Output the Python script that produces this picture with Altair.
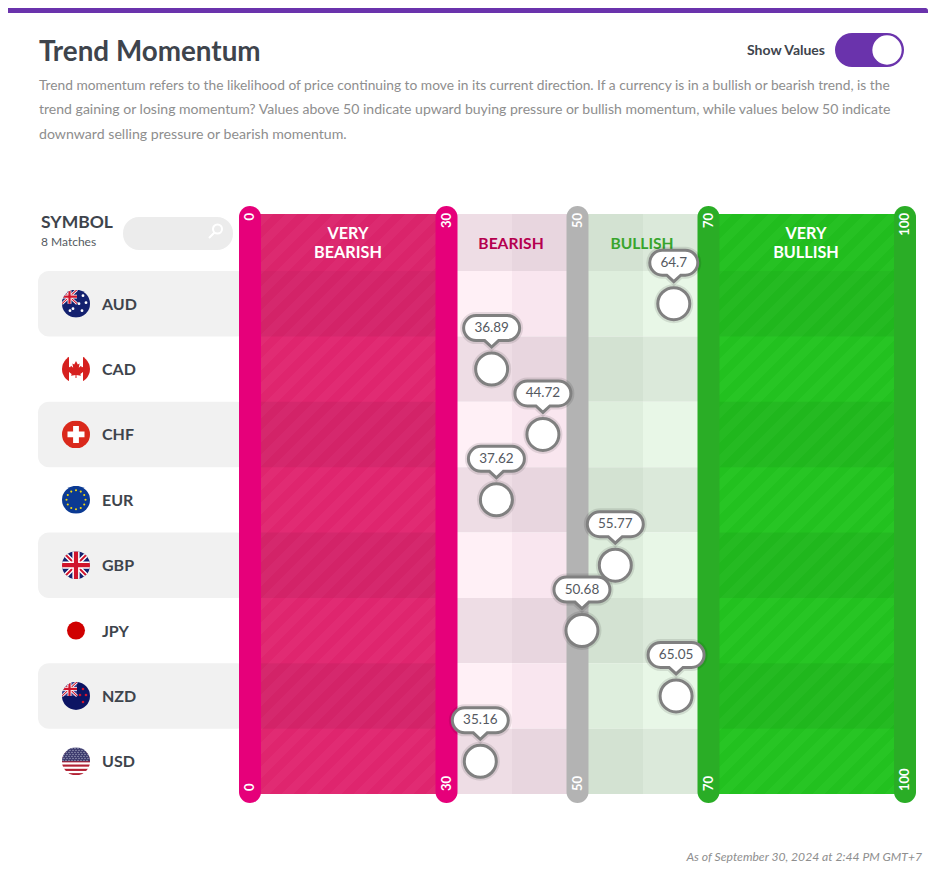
import base64
import altair as alt
import pandas as pd

# ---------- data ----------
symbols = ["AUD", "CAD", "CHF", "EUR", "GBP", "JPY", "NZD", "USD"]
momentum = [64.7, 36.89, 44.72, 37.62, 55.77, 50.68, 65.05, 35.16]
boundaries = [0, 30, 50, 70, 100]
boundary_colors = ["#e6007a", "#e6007a", "#b3b3b3", "#2aad26", "#2aad26"]

FONT = "Lato"
INK = "#3e444c"
GREY = "#8e8e8e"
PURPLE = "#6a33ac"
PX = 8  # page margin


# ---------- flag icons ----------
def svg(body):
    s = ('<svg xmlns="http://www.w3.org/2000/svg" width="56" height="56" viewBox="-14 -14 28 28">'
         '<defs><clipPath id="c"><circle r="14"/></clipPath></defs><g clip-path="url(#c)">' + body + "</g></svg>")
    return "data:image/svg+xml;base64," + base64.b64encode(s.encode()).decode()


def jack(x0, y0, w, h, navy="#14216f"):
    x1, y1 = x0 + w, y0 + h
    cx, cy = x0 + w / 2, y0 + h / 2
    t = w / 7
    return (f'<rect x="{x0}" y="{y0}" width="{w}" height="{h}" fill="{navy}"/>'
            f'<path d="M{x0},{y0}L{x1},{y1}M{x1},{y0}L{x0},{y1}" stroke="#fff" stroke-width="{t*1.2}"/>'
            f'<path d="M{x0},{y0}L{x1},{y1}M{x1},{y0}L{x0},{y1}" stroke="#d0142c" stroke-width="{t*.5}"/>'
            f'<path d="M{cx},{y0}V{y1}M{x0},{cy}H{x1}" stroke="#fff" stroke-width="{t*1.8}"/>'
            f'<path d="M{cx},{y0}V{y1}M{x0},{cy}H{x1}" stroke="#d0142c" stroke-width="{t*1.05}"/>')


def dots(pts, r, col):
    return "".join(f'<circle cx="{x}" cy="{y}" r="{r}" fill="{col}"/>' for x, y in pts)


us_stripes = "".join(f'<rect x="-14" y="{-14 + i*4.3:.1f}" width="28" height="2.15" fill="#b22234"/>' for i in range(1, 7))
us_stars = "".join(f'<circle cx="{x}" cy="{y}" r=".55" fill="#dfe3ee"/>'
                   for y in range(-13, 0, 2) for x in range(-13 + (y + 13) % 4 // 2, 14, 3))
eur_ring = dots([(-9.5 * s, -9.5 * c) for s, c in
                 [(0, 1), (.5, .866), (.866, .5), (1, 0), (.866, -.5), (.5, -.866),
                  (0, -1), (-.5, -.866), (-.866, -.5), (-1, 0), (-.866, .5), (-.5, .866)]], 1.05, "#f5d90a")
maple = ('<path fill="#d6201f" d="M0,-8 L1.8,-4.6 L3.6,-5.6 L2.8,-1.2 L5,-3.4 L5.8,-1.8 L8.4,-2.2 L7.4,.8 '
         'L8.6,1.6 L4.4,5 L4.9,6.6 L.5,6 L.5,9 L-.5,9 L-.5,6 L-4.9,6.6 L-4.4,5 L-8.6,1.6 L-7.4,.8 L-8.4,-2.2 '
         'L-5.8,-1.8 L-5,-3.4 L-2.8,-1.2 L-3.6,-5.6 L-1.8,-4.6Z"/>')
flags = [
    svg('<rect x="-14" y="-14" width="28" height="28" fill="#14216f"/>' + jack(-14, -14, 15, 14)
        + dots([(-6, 7), (7, -8), (10, -1), (6, 7), (3, 0), (-3, 5)], 1.4, "#fff")),
    svg('<rect x="-14" y="-14" width="28" height="28" fill="#fff"/>'
        '<rect x="-14" y="-14" width="7" height="28" fill="#d6201f"/><rect x="7" y="-14" width="7" height="28" fill="#d6201f"/>' + maple),
    svg('<rect x="-14" y="-14" width="28" height="28" fill="#da291c"/>'
        '<path d="M-2.9,-8.5H2.9V-2.9H8.5V2.9H2.9V8.5H-2.9V2.9H-8.5V-2.9H-2.9Z" fill="#fff"/>'),
    svg('<rect x="-14" y="-14" width="28" height="28" fill="#0b3a93"/>' + eur_ring),
    svg(jack(-14, -14, 28, 28)),
    svg('<rect x="-14" y="-14" width="28" height="28" fill="#fff"/><circle r="9" fill="#d00000"/>'),
    svg('<rect x="-14" y="-14" width="28" height="28" fill="#0c1463"/>' + jack(-14, -14, 15, 14, "#3a3f8f")
        + dots([(7, -7), (10, -1), (4, -1), (7, 6)], 1.3, "#d0142c")),
    svg('<rect x="-14" y="-14" width="28" height="28" fill="#fff"/>' + us_stripes
        + '<rect x="-14" y="-14" width="28" height="14" fill="#3c3b6e"/>' + us_stars),
]


# ---------- callout shapes (size 4 -> path units are pixels) ----------
def bubble(w):
    top, bot, r = -53.5, -28.5, 12.5
    arc = f"A{r},{r} 0 0 1"
    return (f"M{-w+r},{top} L{w-r},{top} {arc} {w},{top+r} {arc} {w-r},{bot} "
            f"L7,{bot} L0,-22 L-7,{bot} L{-w+r},{bot} {arc} {-w},{top+r} {arc} {-w+r},{top} Z")


BUBBLE_WIDE, BUBBLE_NARROW = bubble(28), bubble(24)
SEARCH = "M-1,1 L-6,6 M7,-3 A4.5,4.5 0 1 0 -2,-3 A4.5,4.5 0 1 0 7,-3 Z"


# ---------- scales ----------
xs = alt.Scale(domain=[0, 100], range=[250 - PX, 905 - PX], nice=False, zero=False)
ys = alt.Scale(domain=[0, 8], range=[271 - PX, 794 - PX], nice=False, zero=False)
X = lambda f: alt.X(f, scale=xs, axis=None)
Y = lambda f: alt.Y(f, scale=ys, axis=None)


def text(t, x, y, size, color=INK, weight="normal", align="left", style="normal", **kw):
    return alt.Chart(pd.DataFrame({"t": [t]})).mark_text(
        font=FONT, fontSize=size, color=color, fontWeight=weight, align=align,
        baseline="middle", fontStyle=style, **kw
    ).encode(x=alt.value(x - PX), y=alt.value(y - PX), text="t:N")


def box(x0, x1, y0, y1, color, **kw):
    return alt.Chart(pd.DataFrame({"a": [0]})).mark_rect(color=color, **kw).encode(
        x=alt.value(x0 - PX), x2=alt.value(x1 - PX), y=alt.value(y0 - PX), y2=alt.value(y1 - PX))


# ---------- tables ----------
rows = pd.DataFrame({"sym": symbols, "val": momentum, "flag": flags})
rows["top"] = range(8)
rows["bot"] = rows["top"] + 1
rows["mid"] = rows["top"] + 0.5
rows["lab"] = rows["val"].map(lambda v: f"{v:g}")
rows["shape"] = rows["lab"].map(lambda s: BUBBLE_WIDE if len(s) > 4 else BUBBLE_NARROW)

HEAD = -57 / (523 / 8)
cols = [(30, 40, "#fff0f6", "#eeddE5"), (40, 50, "#f9e6ef", "#e8d6df"),
        (50, 60, "#deeedd", "#d3e2d2"), (60, 70, "#e8f7e7", "#dbe9da")]
cells = []
for lo, hi, light, dark in cols:
    cells.append(dict(lo=lo, hi=hi, a=HEAD, b=0, c=dark))
    for i in range(8):
        cells.append(dict(lo=lo, hi=hi, a=i, b=i + 1, c=dark if i % 2 else light))
cells = pd.DataFrame(cells)


def stripes(base, alt_col):
    w, h, period = 197.0, 580.0, 24.0
    k = (w + h) / (w * w + h * h)
    length = k * (w * w + h * h)
    n = int(length / period) + 1
    stops = []
    for i in range(n):
        a, m, b = i * period / length, (i + .5) * period / length, (i + 1) * period / length
        stops += [alt.GradientStop(offset=min(a, 1), color=base), alt.GradientStop(offset=min(m, 1), color=base),
                  alt.GradientStop(offset=min(m, 1), color=alt_col), alt.GradientStop(offset=min(b, 1), color=alt_col)]
    return alt.LinearGradient(gradient="linear", stops=stops, x1=0, y1=0, x2=k * w, y2=k * h)


def zone(lo, hi, fill, overlay):
    d = pd.DataFrame({"lo": [lo], "hi": [hi], "a": [HEAD], "b": [8]})
    base = alt.Chart(d).mark_rect(fill=fill).encode(x=X("lo:Q"), x2="hi:Q", y=Y("a:Q"), y2="b:Q")
    shade = rows[rows["top"] % 2 == 0].assign(lo=lo, hi=hi)
    over = alt.Chart(shade).mark_rect(color=overlay, opacity=.05).encode(
        x=X("lo:Q"), x2="hi:Q", y=Y("top:Q"), y2="bot:Q")
    head = alt.Chart(d).transform_calculate(z="0").mark_rect(color=overlay, opacity=.02).encode(
        x=X("lo:Q"), x2="hi:Q", y=Y("a:Q"), y2="z:Q")
    return [base, over, head]


bounds = pd.DataFrame({"v": boundaries, "c": boundary_colors, "lab": [str(b) for b in boundaries]})

layers = [
    box(PX, 928, 8, 13, PURPLE, cornerRadiusTopRight=6),
    text("Trend Momentum", 39, 53, 27.8, weight="bold"),
    text("Trend momentum refers to the likelihood of price continuing to move in its current direction. If a currency is in a bullish or bearish trend, is the",
         39, 86, 13.75, GREY),
    text("trend gaining or losing momentum? Values above 50 indicate upward buying pressure or bullish momentum, while values below 50 indicate",
         39, 110, 14.05, GREY),
    text("downward selling pressure or bearish momentum.", 39, 135, 14.15, GREY),
    text("Show Values", 747, 51, 14, weight="bold"),
    alt.Chart(pd.DataFrame({"a": [0]})).mark_rule(color=PURPLE, strokeWidth=34, strokeCap="round").encode(
        x=alt.value(852 - PX), x2=alt.value(887 - PX), y=alt.value(50 - PX)),
    alt.Chart(pd.DataFrame({"a": [0]})).mark_point(shape="circle", size=860, filled=True, fill="white", opacity=1, strokeWidth=0).encode(
        x=alt.value(887 - PX), y=alt.value(50 - PX)),
    text("SYMBOL", 41, 223, 17.5, weight="bold"),
    text("8 Matches", 41, 242, 12, "#555b62"),
    box(123, 233, 217, 250, "#ececec", cornerRadius=16),
    alt.Chart(pd.DataFrame({"a": [0]})).mark_point(shape=SEARCH, size=4, filled=False, stroke="white", strokeWidth=2, opacity=1).encode(
        x=alt.value(215 - PX), y=alt.value(232 - PX)),
    text("As of September 30, 2024 at 2:44 PM GMT+7", 922, 857, 12.15, GREY, align="right", style="italic"),
    alt.Chart(rows[rows["top"] % 2 == 0]).mark_rect(color="#f1f1f1", cornerRadius=11).encode(
        x=alt.value(38 - PX), x2=alt.value(248 - PX), y=Y("top:Q"), y2="bot:Q"),
]
layers += zone(0, 30, stripes("#df256e", "#e12b73"), "black")
layers += zone(70, 100, stripes("#22c11f", "#27c524"), "black")
layers += [
    alt.Chart(cells).mark_rect().encode(x=X("lo:Q"), x2="hi:Q", y=Y("a:Q"), y2="b:Q",
                                        color=alt.Color("c:N", scale=None, legend=None)),
    text("VERY", 348, 234, 16.2, "white", "bold", "center"),
    text("BEARISH", 348, 253, 16.2, "white", "bold", "center"),
    text("VERY", 806, 234, 16.2, "white", "bold", "center"),
    text("BULLISH", 806, 253, 16.2, "white", "bold", "center"),
    text("BEARISH", 511, 244, 15.6, "#b5004f", "bold", "center"),
    text("BULLISH", 642, 244, 15.6, "#38a52c", "bold", "center"),
    alt.Chart(bounds).mark_rule(strokeWidth=22, strokeCap="round").encode(
        x=X("v:Q"), y=alt.value(217 - PX), y2=alt.value(792 - PX),
        color=alt.Color("c:N", scale=None, legend=None)),
    alt.Chart(bounds).mark_text(font=FONT, fontSize=13, fontWeight="bold", color="white", angle=270,
                                align="right", baseline="middle").encode(
        x=X("v:Q"), y=alt.value(213 - PX), text="lab:N"),
    alt.Chart(bounds).mark_text(font=FONT, fontSize=13, fontWeight="bold", color="white", angle=270,
                                align="left", baseline="middle").encode(
        x=X("v:Q"), y=alt.value(791 - PX), text="lab:N"),
    alt.Chart(rows).mark_image(width=28, height=28, align="center", baseline="middle").encode(
        x=alt.value(76 - PX), y=Y("mid:Q"), url="flag:N"),
    alt.Chart(rows).mark_text(font=FONT, fontSize=16, fontWeight="bold", color=INK, align="left", baseline="middle", dy=1).encode(
        x=alt.value(102 - PX), y=Y("mid:Q"), text="sym:N"),
    # marker shadows, then the callouts, then the markers
    alt.Chart(rows).mark_point(size=4, filled=False, stroke="black", strokeWidth=7, strokeOpacity=.1, opacity=1).encode(
        x=X("val:Q"), y=Y("mid:Q"), shape=alt.Shape("shape:N", scale=None, legend=None)),
    alt.Chart(rows).mark_point(shape="circle", size=1024, filled=False, stroke="black", strokeWidth=7, strokeOpacity=.1, opacity=1).encode(
        x=X("val:Q"), y=Y("mid:Q")),
    alt.Chart(rows).mark_point(size=4, filled=True, fill="white", stroke="#808080", strokeWidth=3, opacity=1).encode(
        x=X("val:Q"), y=Y("mid:Q"), shape=alt.Shape("shape:N", scale=None, legend=None)),
    alt.Chart(rows).mark_point(shape="circle", size=1024, filled=True, fill="white", stroke="#808080", strokeWidth=3, opacity=1).encode(
        x=X("val:Q"), y=Y("mid:Q")),
    alt.Chart(rows).mark_text(font=FONT, fontSize=13.5, color="#55595f", align="center", baseline="middle", dy=-41).encode(
        x=X("val:Q"), y=Y("mid:Q"), text="lab:N"),
]

chart = alt.layer(*layers).properties(
    width=920, height=867, padding=0, autosize=alt.AutoSizeParams(type="none")
).configure_view(stroke=None)

chart.save("out.html", embed_options={"renderer": "svg", "actions": False})
